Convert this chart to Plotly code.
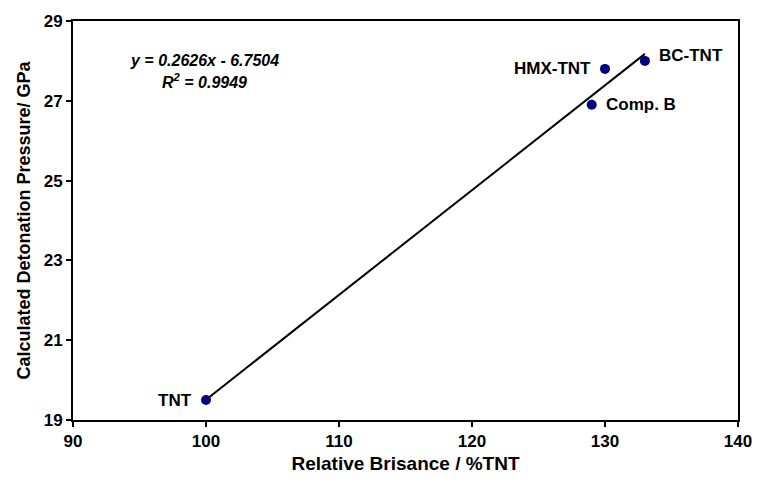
import plotly.graph_objects as go

names = ["TNT", "Comp. B", "HMX-TNT", "BC-TNT"]
brisance = [100, 129, 130, 133]
pressure = [19.5, 26.9, 27.8, 28.0]
slope, intercept = 0.2626, -6.7504
fit_x = [100, 133]
fit_y = [slope * v + intercept for v in fit_x]
x_ticks = [90, 100, 110, 120, 130, 140]
y_ticks = [19, 21, 23, 25, 27, 29]

font = "Arial"
fig = go.Figure()
fig.add_trace(go.Scatter(x=fit_x, y=fit_y, mode="lines",
                         line=dict(color="black", width=2), showlegend=False))
fig.add_trace(go.Scatter(x=brisance, y=pressure, mode="markers",
                         marker=dict(color="#000080", size=10), showlegend=False))

label_pos = {
    "TNT": dict(xanchor="right", xshift=-12, yshift=0),
    "Comp. B": dict(xanchor="left", xshift=12, yshift=0),
    "HMX-TNT": dict(xanchor="right", xshift=-12, yshift=0),
    "BC-TNT": dict(xanchor="left", xshift=12, yshift=5),
}
for n, xv, yv in zip(names, brisance, pressure):
    p = label_pos[n]
    fig.add_annotation(x=xv, y=yv, text="<b>%s</b>" % n, showarrow=False,
                       xanchor=p["xanchor"], xshift=p["xshift"], yshift=p["yshift"],
                       font=dict(family=font, size=17, color="black"))

fig.add_annotation(x=99.9, y=28.0, text="<b><i>y = 0.2626x - 6.7504</i></b>",
                   showarrow=False, font=dict(family=font, size=16, color="black"))
fig.add_annotation(x=99.9, y=27.5, text="<b><i>R<sup>2</sup> = 0.9949</i></b>",
                   showarrow=False, font=dict(family=font, size=16, color="black"))

axis_common = dict(showgrid=False, zeroline=False, showline=True, linecolor="black",
                   linewidth=2, mirror=True, ticks="outside", ticklen=5, tickwidth=2,
                   tickcolor="black",
                   tickfont=dict(family=font, size=17, color="black", weight=700))
fig.update_xaxes(range=[90, 140], tickvals=x_ticks,
                 ticktext=["<b>%d</b>" % v for v in x_ticks],
                 title=dict(text="<b>Relative Brisance / %TNT</b>",
                            font=dict(family=font, size=19, color="black"), standoff=6),
                 **axis_common)
fig.update_yaxes(range=[19, 29], tickvals=y_ticks,
                 ticktext=["<b>%d</b>" % v for v in y_ticks],
                 title=dict(text="<b>Calculated Detonation Pressure/ GPa</b>",
                            font=dict(family=font, size=18, color="black"), standoff=8),
                 **axis_common)
fig.update_layout(width=764, height=483, margin=dict(l=73, r=24, t=20, b=63),
                  plot_bgcolor="white", paper_bgcolor="white")
fig.write_html("out.html")
